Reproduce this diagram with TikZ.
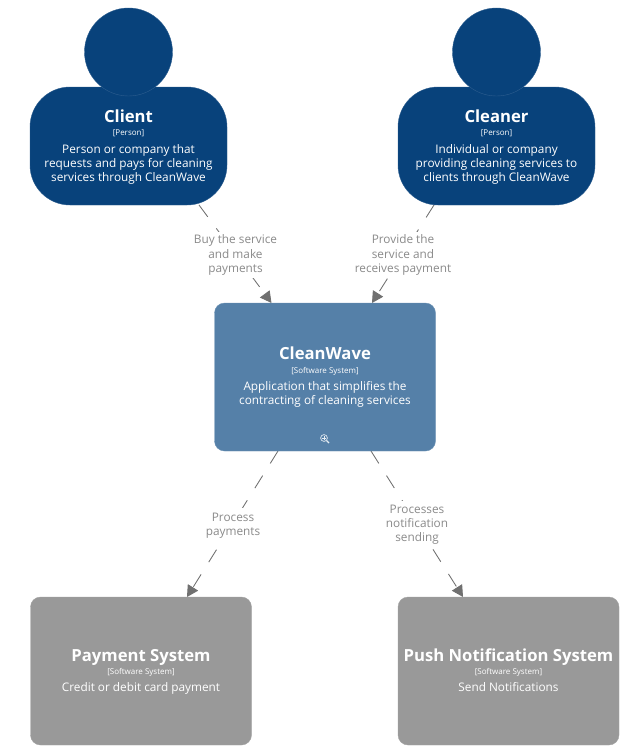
\documentclass[tikz,border=0pt]{standalone}
\usepackage{fontspec}
\setmainfont{Open Sans}
\usetikzlibrary{arrows.meta,calc}
\definecolor{personblue}{HTML}{08427B}
\definecolor{sysblue}{HTML}{5580A8}
\definecolor{extgrey}{HTML}{999999}
\definecolor{linkgrey}{HTML}{707070}
\definecolor{labelgrey}{HTML}{8A8A8A}
\tikzset{
  x=0.75pt,y=-0.75pt,
  personbody/.style={fill=personblue,draw=personblue!85!white,line width=0.3pt,rounded corners=30pt,inner sep=0pt,minimum width=147.75pt,minimum height=88.5pt},
  personhead/.style={circle,fill=personblue,draw=personblue!85!white,line width=0.3pt,inner sep=0pt,minimum size=66pt},
  sysbox/.style={fill=sysblue,draw=sysblue!85!white,line width=0.3pt,rounded corners=7.5pt,inner sep=0pt,minimum width=165.75pt,minimum height=111pt},
  extbox/.style={fill=extgrey,draw=extgrey!90!white,line width=0.3pt,rounded corners=7.5pt,inner sep=0pt,minimum height=111pt,minimum width=165.75pt},
  nametext/.style={text=white,font=\bfseries\fontsize{12.5pt}{14pt}\selectfont,inner sep=0pt,anchor=base},
  tagtext/.style={text=white,font=\fontsize{6pt}{7pt}\selectfont,inner sep=0pt,anchor=base},
  desctext/.style={text=white,font=\fontsize{8.85pt}{10.5pt}\selectfont,align=center,inner sep=0pt,anchor=base},
  linktext/.style={fill=white,text=labelgrey,font=\fontsize{8.85pt}{10.6pt}\selectfont,align=center,inner xsep=1.5pt,inner ysep=0pt},
  linkline/.style={draw=linkgrey,line width=0.65pt,dash pattern=on 11pt off 10.8pt,
    -{Triangle[length=8.5pt,width=9pt,fill=linkgrey,color=linkgrey]}}
}
\begin{document}
\begin{tikzpicture}
\useasboundingbox (0,0) rectangle (639,753);
\coordinate (c1s) at (199,205); \coordinate (c1e) at (271.5,303);
\coordinate (c2s) at (434,205); \coordinate (c2e) at (372,303);
\coordinate (c3s) at (278,451); \coordinate (c3e) at (187,597);
\coordinate (c4s) at (371,451); \coordinate (c4e) at (463,597);
\draw[linkline] (c1s) -- (c1e);
\draw[linkline] (c2s) -- (c2e);
\draw[linkline] (c3s) -- (c3e);
\draw[linkline] (c4s) -- (c4e);
\node[linktext,minimum height=35pt] (l1) at (235.5,255) {Buy the service\\and make\\payments};
\node[linktext,minimum height=35pt] (l2) at (403,255) {Provide the\\service and\\receives payment};
\node[linktext,minimum height=27pt] (l3) at (233,526) {Process\\payments};
\node[linktext,minimum height=35pt] (l4) at (417,524.5) {Processes\\notification\\sending};
\node[personbody] (clientbody) at (128.5,146) {};
\node[personhead] (clienthead) at (128.5,52) {};
\node[personbody] (cleanerbody) at (496.5,146) {};
\node[personhead] (cleanerhead) at (496.5,52) {};
\node[sysbox] (cw) at (325,377) {};
\node[extbox] (pay) at (141,671) {};
\node[extbox] (push) at (508.5,671) {};
\node[nametext] (n1) at (128.5,122) {Client};
\node[tagtext] (t1) at (128.5,135) {[Person]};
\node[desctext] (d1) at (128.5,181) {Person or company that\\requests and pays for cleaning\\services through CleanWave};
\node[nametext] (n2) at (496.5,122) {Cleaner};
\node[tagtext] (t2) at (496.5,135) {[Person]};
\node[desctext] (d2) at (496.5,181) {Individual or company\\providing cleaning services to\\clients through CleanWave};
\node[nametext] (n3) at (325,359) {CleanWave};
\node[tagtext] (t3) at (325,373) {[Software System]};
\node[desctext] (d3) at (325,404) {Application that simplifies the\\contracting of cleaning services};
\node[nametext] (n4) at (141,661) {Payment System};
\node[tagtext] (t4) at (141,674) {[Software System]};
\node[desctext] (d4) at (141,691) {Credit or debit card payment};
\node[nametext] (n5) at (508.5,661) {Push Notification System};
\node[tagtext] (t5) at (508.5,674) {[Software System]};
\node[desctext] (d5) at (508.5,691) {Send Notifications};
% zoom icon
\draw[white!85!sysblue,line width=0.5pt] (324,438) circle[radius=3.4];
\draw[white!85!sysblue,line width=0.4pt] (322.2,438) -- (325.8,438) (324,436.2) -- (324,439.8);
\draw[white!85!sysblue,line width=0.9pt] (326.6,440.6) -- (329,443);
\end{tikzpicture}
\end{document}
